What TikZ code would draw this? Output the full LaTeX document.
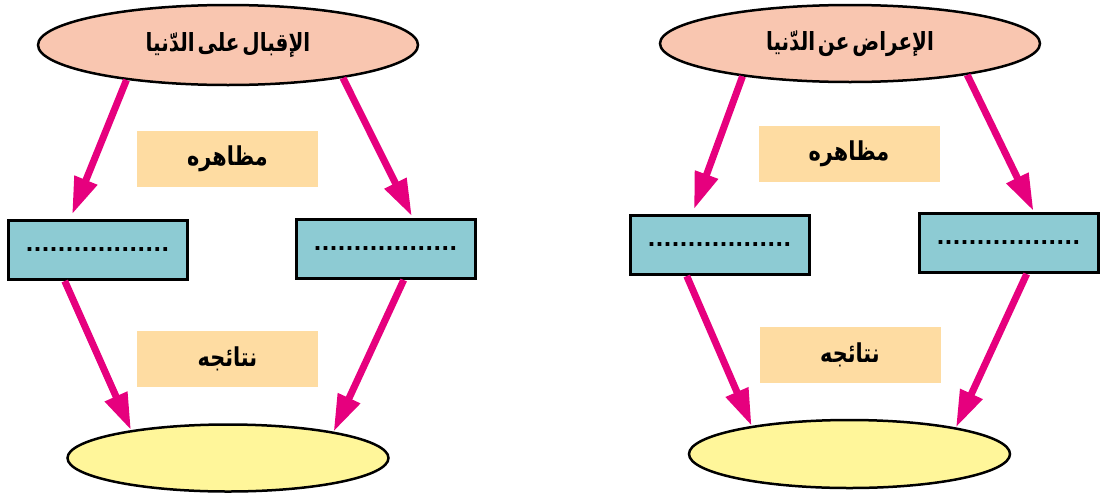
\documentclass[tikz,border=0pt]{standalone}
\usepackage{fontspec}
\newfontfamily\arabicfont[Script=Arabic,FakeStretch=0.8,WordSpace=0.4]{DejaVu Sans}
\newfontfamily\dotfont{DejaVu Sans}
\TeXXeTstate=1
\usetikzlibrary{positioning,calc,shapes.geometric,arrows.meta}

\definecolor{peach}{RGB}{249,198,176}
\definecolor{slotblue}{RGB}{141,203,211}
\definecolor{tagorange}{RGB}{254,220,162}
\definecolor{resultyellow}{RGB}{255,246,154}
\definecolor{linkpink}{RGB}{230,0,126}

\tikzset{
  goal/.style={ellipse, draw, line width=2.5pt, fill=peach, inner sep=0pt,
    minimum width=380pt, minimum height=80pt,
    font=\arabicfont\bfseries\fontsize{25pt}{29pt}\selectfont},
  slot/.style={rectangle, draw, line width=3pt, fill=slotblue, inner sep=0pt,
    minimum width=179pt, minimum height=59pt,
    font=\dotfont\bfseries\fontsize{21pt}{25pt}\selectfont},
  tag/.style={rectangle, fill=tagorange, inner sep=0pt,
    minimum width=181pt, minimum height=56pt,
    font=\arabicfont\bfseries\fontsize{26pt}{30pt}\selectfont},
  result/.style={ellipse, draw, line width=2.5pt, fill=resultyellow,
    minimum width=321pt, minimum height=67pt},
  link/.style={line width=7pt, draw=linkpink,
    -{Triangle[length=37pt,width=23pt]}}
}

\begin{document}
\begin{tikzpicture}[x=1pt,y=-1pt]
  \useasboundingbox (0,0) rectangle (1105,501);

  % left panel
  \node[goal] (topL) at (228,45) {\beginR الإقبال على الدّنيا\endR};
  \node[tag] (showL) at (227.5,159) {\beginR مظاهره\endR};
  \node[slot] (boxLL) at (97.5,250) {..................};
  \node[slot] (boxLR) at (385.5,249) {..................};
  \node[tag] (endL) at (227.5,359) {\beginR نتائجه\endR};
  \node[result] (botL) at (228,458) {};

  \draw[link, shorten >=5pt] (topL.199) -- ($(boxLL.north west)!0.35!(boxLL.north east)$);
  \draw[link, shorten >=2pt] (topL.344) -- ($(boxLR.north west)!0.65!(boxLR.north east)$);
  \draw[link] ($(boxLL.south west)!0.32!(boxLL.south east)$) -- (botL.164);
  \draw[link] ($(boxLR.south west)!0.60!(boxLR.south east)$) -- (botL.14);

  % right panel
  \node[goal, minimum height=77pt] (topR) at (850,43.5) {\beginR الإعراض عن الدّنيا\endR};
  \node[tag] (showR) at (849,154) {\beginR مظاهره\endR};
  \node[slot] (boxRL) at (719.5,245) {..................};
  \node[slot] (boxRR) at (1008.5,243) {..................};
  \node[tag] (endR) at (850,354.5) {\beginR نتائجه\endR};
  \node[result, minimum height=68pt] (botR) at (849.5,454) {};

  \draw[link, shorten >=5pt] (topR.197) -- ($(boxRL.north west)!0.35!(boxRL.north east)$);
  \draw[link, shorten >=1pt] (topR.345) -- ($(boxRR.north west)!0.64!(boxRR.north east)$);
  \draw[link] ($(boxRL.south west)!0.32!(boxRL.south east)$) -- (botR.164);
  \draw[link] ($(boxRR.south west)!0.60!(boxRR.south east)$) -- (botR.14);
\end{tikzpicture}
\end{document}
